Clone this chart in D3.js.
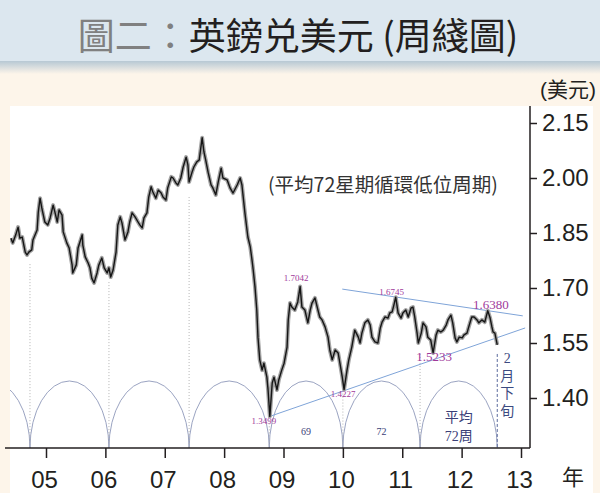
<!DOCTYPE html>
<html>
<head>
<meta charset="utf-8">
<script src="https://cdn.jsdelivr.net/npm/d3@7"></script>
<style>
	body { margin: 0; background: #fdf5ea; }
	svg { display: block; }
</style>
</head>
<body>
<div id="chart"></div>
<script>
// weekly GBP/USD (decimal year, close)
var weeks = [
	2004.41,2004.44,2004.49,2004.53,2004.56,2004.60,2004.65,2004.68,2004.71,2004.76,2004.78,2004.85,2004.87,2004.90,2004.93,2004.98,
	2005.03,2005.07,2005.12,2005.15,2005.19,2005.22,2005.27,2005.29,2005.35,2005.39,2005.44,2005.45,2005.51,2005.54,2005.61,2005.62,2005.66,2005.71,2005.74,2005.77,2005.81,2005.86,2005.89,2005.94,2005.98,
	2006.03,2006.06,2006.09,2006.13,2006.18,2006.21,2006.25,2006.28,2006.33,2006.38,2006.41,2006.45,2006.50,2006.55,2006.58,2006.62,2006.65,2006.70,2006.73,2006.77,2006.80,2006.85,2006.89,2006.94,2006.97,
	2007.02,2007.05,2007.11,2007.14,2007.19,2007.22,2007.27,2007.31,2007.36,2007.39,2007.41,2007.46,2007.49,2007.54,2007.58,2007.63,2007.66,2007.69,2007.73,2007.78,2007.81,2007.86,2007.90,2007.95,2007.98,
	2008.05,2008.10,2008.15,2008.22,2008.27,2008.30,2008.35,2008.40,2008.44,2008.47,2008.49,2008.52,2008.55,2008.57,2008.60,2008.64,2008.67,2008.72,2008.74,2008.77,2008.81,2008.84,2008.89,2008.92,2008.97,
	2009.01,2009.06,2009.08,2009.11,2009.14,2009.19,2009.24,2009.28,2009.31,2009.36,2009.41,2009.45,2009.48,2009.53,2009.58,2009.61,2009.65,2009.70,2009.75,2009.78,2009.82,2009.87,2009.92,2009.95,2009.99,
	2010.02,2010.07,2010.10,2010.15,2010.20,2010.26,2010.29,2010.32,2010.37,2010.42,2010.46,2010.49,2010.54,2010.59,2010.63,2010.66,2010.71,2010.76,2010.79,2010.83,2010.86,2010.89,2010.93,2010.98,
	2011.01,2011.06,2011.10,2011.15,2011.18,2011.21,2011.25,2011.27,2011.32,2011.35,2011.40,2011.43,2011.48,2011.52,2011.57,2011.60,2011.65,2011.69,2011.74,2011.77,2011.82,2011.85,2011.89,2011.92,2011.96,
	2012.01,2012.04,2012.09,2012.12,2012.17,2012.21,2012.26,2012.29,2012.34,2012.39,2012.44,2012.48,2012.51,2012.53,2012.56,2012.60
];
var closes = [
	1.836,1.823,1.845,1.866,1.836,1.839,1.798,1.790,1.798,1.804,1.831,1.858,1.907,1.945,1.918,1.880,
	1.872,1.891,1.926,1.907,1.880,1.913,1.899,1.853,1.823,1.809,1.763,1.741,1.763,1.809,1.845,1.817,1.785,1.768,1.755,1.727,1.714,1.741,1.763,1.782,1.755,
	1.741,1.755,1.730,1.749,1.798,1.872,1.894,1.877,1.831,1.853,1.880,1.905,1.894,1.880,1.872,1.864,1.891,1.905,1.948,1.976,1.962,1.945,1.967,1.959,1.948,
	1.940,1.973,2.003,2.000,1.986,1.981,2.000,2.030,2.057,2.036,1.989,2.016,2.030,2.044,2.049,2.110,2.071,2.049,2.016,1.981,1.973,1.954,1.989,2.027,2.000,
	1.995,1.973,1.959,1.981,2.000,1.981,1.905,1.839,1.812,1.776,1.749,1.703,1.640,1.566,1.504,1.476,1.495,1.457,1.422,1.350,1.441,1.457,1.422,1.449,1.476,
	1.495,1.539,1.613,1.659,1.648,1.640,1.662,1.704,1.648,1.640,1.605,1.640,1.659,1.673,1.640,1.621,1.613,1.594,1.566,1.531,1.504,1.531,1.523,1.495,1.457,
	1.423,1.476,1.504,1.539,1.585,1.566,1.550,1.577,1.605,1.613,1.599,1.566,1.553,1.550,1.591,1.607,1.621,1.618,1.632,1.635,1.654,1.675,1.632,1.618,
	1.632,1.640,1.621,1.646,1.648,1.621,1.577,1.550,1.577,1.605,1.594,1.566,1.558,1.523,1.572,1.585,1.580,1.585,1.599,1.613,1.626,1.605,1.564,1.553,1.566,
	1.564,1.572,1.577,1.594,1.621,1.621,1.613,1.605,1.613,1.607,1.638,1.618,1.594,1.580,1.577,1.545
];

var yearTicks = [2005, 2006, 2007, 2008, 2009, 2010, 2011, 2012, 2013];
var yearLabels = ['05', '06', '07', '08', '09', '10', '11', '12', '13'];
var priceTicks = [2.15, 2.00, 1.85, 1.70, 1.55, 1.40];

// 72-week cycle lows
var cycleDates = [2003.40, 2004.73, 2006.06, 2007.41, 2008.76, 2010.00, 2011.30, 2012.60];
var cyclePrices = [null, 1.776, 1.727, 1.959, 1.350, 1.423, 1.531, 1.531];
var cycleNotes = [[], [], [], [], ['69'], ['72'], ['平均', '72周']];

var pivotDates = [2008.77, 2009.28, 2010.02, 2010.89, 2011.52, 2012.44];
var pivotPrices = [1.3499, 1.7042, 1.4227, 1.6745, 1.5233, 1.6380];

var lowerTrend = [[2008.79, 1.351], [2013.07, 1.591]];
var upperTrend = [[2009.99, 1.697], [2013.03, 1.624]];

var W = 600, H = 493;
var plotLeft = 10, plotRight = 530, plotTop = 106, plotBottom = 448;

var x = d3.scaleLinear().domain([2005, 2013]).range([46, 521]);
var y = d3.scaleLinear().domain([1.40, 2.15]).range([398, 123]);

var svg = d3.select('#chart').append('svg')
	.attr('width', W)
	.attr('height', H);

var defs = svg.append('defs');
var grad = defs.append('linearGradient')
	.attr('id', 'shade')
	.attr('x1', 0).attr('y1', 0).attr('x2', 0).attr('y2', 1);
grad.append('stop').attr('offset', '0%').attr('stop-color', '#b7c8d4');
grad.append('stop').attr('offset', '100%').attr('stop-color', '#fdf5ea');

defs.append('clipPath').attr('id', 'plot')
	.append('rect')
	.attr('x', plotLeft).attr('y', plotTop)
	.attr('width', plotRight - plotLeft).attr('height', plotBottom - plotTop);

// backgrounds
svg.append('rect').attr('width', W).attr('height', H).attr('fill', '#fdf5ea');
svg.append('rect').attr('width', W).attr('height', 61).attr('fill', '#dce7ef');
svg.append('rect').attr('y', 61).attr('width', W).attr('height', 13).attr('fill', 'url(#shade)');
svg.append('rect')
	.attr('x', plotLeft).attr('y', plotTop)
	.attr('width', 583).attr('height', H - plotTop)
	.attr('fill', '#fff');

// title
var title = svg.append('text')
	.attr('x', 298)
	.attr('y', 50)
	.attr('text-anchor', 'middle')
	.style('font-family', '"Noto Sans CJK TC", sans-serif')
	.style('font-size', '37px')
	.style('font-weight', 'normal');
title.append('tspan').attr('fill', '#808080').text('圖二：');
title.append('tspan').attr('fill', '#231f20').text('英鎊兑美元 (周綫圖)');

svg.append('text')
	.attr('x', 596)
	.attr('y', 97)
	.attr('text-anchor', 'end')
	.attr('fill', '#231f20')
	.style('font-family', '"Liberation Sans", "Noto Sans CJK TC", sans-serif')
	.style('font-size', '21px')
	.text('(美元)');

var plot = svg.append('g').attr('clip-path', 'url(#plot)');

// cycle arcs
var arcH = 67;
for (var i = 0; i < cycleDates.length - 1; i++) {
	var x0 = x(cycleDates[i]), x1 = x(cycleDates[i + 1]);
	var rx = (x1 - x0) / 2;
	plot.append('path')
		.attr('d', 'M' + x0 + ',' + plotBottom + ' A' + rx + ',' + arcH + ' 0 0 1 ' + x1 + ',' + plotBottom)
		.attr('fill', 'none')
		.attr('stroke', '#8e98ba')
		.attr('stroke-width', 0.9);

	var notes = cycleNotes[i];
	var small = notes.length === 1;
	notes.forEach(function(t, j) {
		svg.append('text')
			.attr('x', (x0 + x1) / 2)
			.attr('y', small ? 435 : 422 + j * 19)
			.attr('text-anchor', 'middle')
			.attr('fill', '#3b4078')
			.style('font-family', '"Liberation Serif", "Noto Sans CJK TC", serif')
			.style('font-size', small ? '10px' : '14px')
			.text(t);
	});
}

// cycle low markers
cycleDates.forEach(function(d, i) {
	if (cyclePrices[i] === null) return;
	var last = i === cycleDates.length - 1;
	plot.append('line')
		.attr('x1', x(d)).attr('x2', x(d))
		.attr('y1', y(cyclePrices[i]) + 4)
		.attr('y2', plotBottom)
		.attr('stroke', last ? '#5b6a9c' : '#b4b4b4')
		.attr('stroke-width', 1)
		.attr('stroke-dasharray', last ? '3,2' : '1,2');
});

// trend lines
var trend = d3.line().x(function(d) { return x(d[0]); }).y(function(d) { return y(d[1]); });
[lowerTrend, upperTrend].forEach(function(t) {
	plot.append('path')
		.attr('d', trend(t))
		.attr('fill', 'none')
		.attr('stroke', '#7fa4d8')
		.attr('stroke-width', 1);
});

// price series
var series = weeks.map(function(w, i) { return [w, closes[i]]; });
plot.append('path')
	.attr('d', trend(series))
	.attr('fill', 'none')
	.attr('stroke', '#a3a3a3')
	.attr('stroke-width', 4)
	.attr('stroke-linejoin', 'round');
plot.append('path')
	.attr('d', trend(series))
	.attr('fill', 'none')
	.attr('stroke', '#151515')
	.attr('stroke-width', 1.4)
	.attr('stroke-linejoin', 'round');

// pivot labels
var pivotShift = [[-6, 8], [-4, -5], [-1, 7], [-4, -2], [1, 8], [3, -2]];
var pivotSize = [9, 9, 9, 9, 13, 13];
pivotDates.forEach(function(d, i) {
	svg.append('text')
		.attr('x', x(d) + pivotShift[i][0])
		.attr('y', y(pivotPrices[i]) + pivotShift[i][1])
		.attr('text-anchor', 'middle')
		.attr('fill', '#a0399a')
		.style('font-family', '"Liberation Serif", serif')
		.style('font-size', pivotSize[i] + 'px')
		.text(d3.format('.4f')(pivotPrices[i]));
});

// note text
svg.append('text')
	.attr('x', 268)
	.attr('y', 192)
	.attr('fill', '#333')
	.style('font-family', '"Noto Sans CJK TC", sans-serif')
	.style('font-size', '19.5px')
	.text('(平均72星期循環低位周期)');

var vert = svg.append('text')
	.attr('fill', '#3b4a80')
	.attr('text-anchor', 'middle')
	.style('font-family', '"Liberation Serif", "Noto Sans CJK TC", serif')
	.style('font-size', '14px');
['2', '月', '下', '旬'].forEach(function(c, i) {
	vert.append('tspan')
		.attr('x', x(cycleDates[cycleDates.length - 1]) + 10)
		.attr('y', 363 + i * 17.5)
		.text(c);
});

// axes
var axisFont = '"Liberation Sans", Arial, sans-serif';
var yAxis = svg.append('g')
	.attr('transform', 'translate(' + plotRight + ',0)')
	.call(d3.axisRight(y).tickValues(priceTicks).tickFormat(d3.format('.2f')).tickSize(7).tickPadding(5));
var xAxis = svg.append('g')
	.attr('transform', 'translate(0,' + plotBottom + ')')
	.call(d3.axisBottom(x).tickValues(yearTicks).tickFormat(function(d, i) { return yearLabels[i]; }).tickSize(10).tickPadding(13));

[yAxis, xAxis].forEach(function(a) {
	a.select('.domain').remove();
	a.selectAll('line').attr('stroke', '#231f20').attr('stroke-width', 1.5);
	a.selectAll('text')
		.attr('fill', '#231f20')
		.style('font-family', axisFont)
		.style('font-size', '24px');
});
xAxis.selectAll('text').attr('dx', -2);

svg.append('line')
	.attr('x1', plotRight).attr('x2', plotRight)
	.attr('y1', plotTop).attr('y2', plotBottom)
	.attr('stroke', '#231f20').attr('stroke-width', 1.5);
svg.append('line')
	.attr('x1', 5).attr('x2', plotRight)
	.attr('y1', plotBottom).attr('y2', plotBottom)
	.attr('stroke', '#231f20').attr('stroke-width', 1.5);

svg.append('text')
	.attr('x', 573)
	.attr('y', 485)
	.attr('text-anchor', 'middle')
	.attr('fill', '#231f20')
	.style('font-family', '"Noto Sans CJK TC", sans-serif')
	.style('font-size', '22px')
	.text('年');
</script>
</body>
</html>
